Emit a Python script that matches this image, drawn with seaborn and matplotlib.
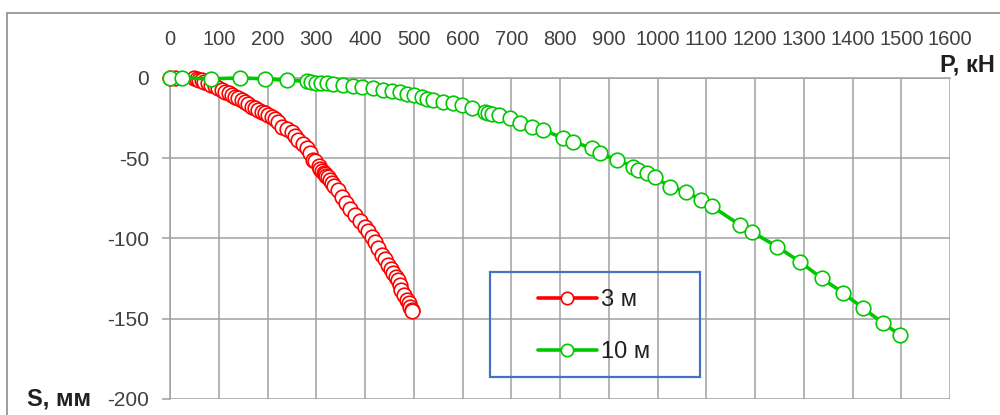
import matplotlib
matplotlib.use('agg')
import matplotlib.pyplot as plt
import seaborn as sns
import pandas as pd
from matplotlib.patches import Rectangle

# 3 m pile: load P (kN) vs settlement S (mm)
p_3m = [0, 10, 50, 55, 60, 65, 70, 78, 85, 92, 99, 106, 113, 120, 127, 134, 140,
        147, 154, 161, 168, 175, 181, 188, 195, 202, 209, 216, 222, 229, 240, 250,
        257, 263, 272, 280, 287, 294, 297, 305, 308, 312, 315, 318, 321, 325, 328,
        332, 336, 345, 353, 362, 370, 379, 390, 400, 407, 414, 420, 427, 434, 441,
        448, 453, 458, 463, 467, 471, 474, 480, 486, 490, 493, 496, 497]
s_3m = [0, 0, 0, -0.5, -1, -1.5, -2.3, -3.2, -4.4, -5.3, -6.4, -7.4, -8.5, -9.5,
        -10.6, -11.6, -12.7, -13.7, -14.8, -16.3, -17.9, -18.9, -19.9, -21, -22,
        -23, -24.1, -25.6, -27.2, -30.3, -32, -33.5, -36, -38.6, -41, -43.8, -47,
        -51, -52, -55, -57, -58, -59, -60, -61, -62, -63.5, -65.5, -67.5, -69.8,
        -74, -78, -81.5, -85.4, -89, -92.6, -95.5, -98.9, -102, -106, -110, -113,
        -116.5, -119, -121.7, -124, -125.9, -129, -132, -135, -138.3, -140.5,
        -142.5, -144.5, -145]

# 10 m pile
p_10m = [0, 24, 85, 144, 195, 240, 280, 290, 300, 310, 322, 335, 355, 376, 393,
         417, 437, 455, 472, 486, 500, 516, 527, 540, 561, 581, 598, 619, 646, 653,
         660, 674, 697, 718, 742, 766, 807, 827, 865, 882, 916, 950, 961, 978, 995,
         1026, 1058, 1089, 1112, 1169, 1193, 1245, 1292, 1337, 1381, 1422, 1463, 1497]
s_10m = [0, 0, -0.5, 0, -0.5, -1.5, -2, -2.5, -3, -3, -3.3, -3.5, -4.5, -5.2, -5.8,
         -6.4, -7.2, -8, -9, -10, -10.8, -12, -13, -13.7, -14.8, -15.8, -16.8, -18.9,
         -21, -22, -22.5, -23, -25.1, -28.2, -30.3, -32.4, -37.6, -39.7, -43.8, -46.9,
         -51, -55.2, -57.3, -59.4, -62, -67.7, -70.8, -76, -80, -91.6, -95.8, -105,
         -114.5, -124.8, -134, -143.5, -152.8, -160]

x_ticks = list(range(0, 1601, 100))
y_ticks = [0, -50, -100, -150, -200]

sns.set_style("white")
plt.rcParams['font.family'] = ['Liberation Sans', 'DejaVu Sans']
plt.rcParams['axes.unicode_minus'] = False

fig = plt.figure(figsize=(10, 4.15), dpi=100)
ax = fig.add_axes([0.17, 0.0386, 0.78, 0.7735])

grid_c = '#a0a0a0'
text_c = '#404040'

series = [
    ('3 м', p_3m, s_3m, '#ff0000'),
    ('10 м', p_10m, s_10m, '#00c800'),
]
for name, p, s, c in series:
    df = pd.DataFrame({'P': p, 'S': s})
    sns.lineplot(data=df, x='P', y='S', ax=ax, sort=False, estimator=None,
                 color=c, linewidth=2.6, marker='o', markersize=10.5,
                 markerfacecolor='white', markeredgecolor=c,
                 markeredgewidth=1.2, label=name, clip_on=False, zorder=3)

ax.set_xlim(0, 1600)
ax.set_ylim(-200, 0)
ax.set_xticks(x_ticks)
ax.set_yticks(y_ticks)
ax.xaxis.tick_top()
ax.set_xlabel('')
ax.set_ylabel('')
ax.grid(True, color=grid_c, linewidth=1.1)
ax.set_axisbelow(True)
ax.tick_params(axis='x', length=0, pad=21, labelsize=14.5, labelcolor=text_c)
ax.tick_params(axis='y', length=6, width=1.1, color=grid_c, pad=9,
               labelsize=15, labelcolor=text_c, left=True)
for side in ['right', 'bottom']:
    ax.spines[side].set_visible(False)
for side in ['top', 'left']:
    ax.spines[side].set_color(grid_c)
    ax.spines[side].set_linewidth(1.1)

ax.get_legend().remove()
handles, labels = ax.get_legend_handles_labels()
fig.legend(handles, labels, loc='center', bbox_to_anchor=(0.594, 0.214),
           frameon=False, fontsize=17, handlelength=2.5, handletextpad=0.2,
           labelspacing=1.25, labelcolor='#202020', markerscale=0.85)
fig.add_artist(Rectangle((0.49, 0.0916), 0.21, 0.253, transform=fig.transFigure,
                         fill=False, edgecolor='#4472c4', linewidth=1.6))

# outer chart frame
fig.add_artist(Rectangle((0.007, -0.05), 1.05, 1.019, transform=fig.transFigure,
                         fill=False, edgecolor='#8c8c8c', linewidth=1.2))

fig.text(0.995, 0.843, 'P, кН', ha='right', va='center', fontsize=17,
         fontweight='bold', color='#202020')
fig.text(0.027, 0.0386, 'S, мм', ha='left', va='center', fontsize=17,
         fontweight='bold', color='#202020')

fig.savefig('out.png', dpi=100)
